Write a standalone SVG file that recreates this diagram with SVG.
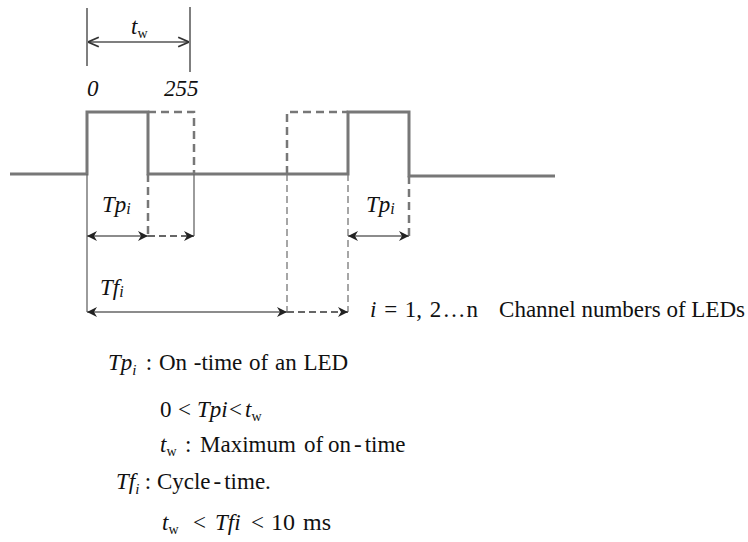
<svg xmlns="http://www.w3.org/2000/svg" width="748" height="542" viewBox="0 0 748 542">
<defs>
<style>
.wave{fill:none;stroke:#777;stroke-width:3;stroke-linejoin:miter}
.wdash{fill:none;stroke:#777;stroke-width:2.5;stroke-dasharray:8,5}
.thin{fill:none;stroke:#666;stroke-width:1.3}
.tdash{fill:none;stroke:#777;stroke-width:1.3;stroke-dasharray:7,4}
.dim{fill:none;stroke:#555;stroke-width:1.5}
.dimd{fill:none;stroke:#666;stroke-width:2.2;stroke-dasharray:7,4}
text{font-family:"Liberation Serif","DejaVu Serif",serif;font-size:23px;fill:#111}
.it{font-style:italic}
.sub{font-size:14px;font-style:normal}
.si{font-size:15px;font-style:italic}
</style>
<marker id="ah" viewBox="0 0 10 10" refX="10" refY="5" markerWidth="10" markerHeight="10" markerUnits="userSpaceOnUse" orient="auto-start-reverse">
<path d="M0,0 L10,5 L0,10 L3,5 z" fill="#222"/>
</marker>
<marker id="oa" viewBox="0 0 10 10" refX="10" refY="5" markerWidth="12" markerHeight="12" markerUnits="userSpaceOnUse" orient="auto-start-reverse">
<path d="M1,1 L10,5 L1,9" fill="none" stroke="#333" stroke-width="1.5"/>
</marker>
</defs>

<g id="connectors">
<line class="dim" x1="87" y1="8" x2="87" y2="66"/>
<line class="dim" x1="190" y1="7" x2="190" y2="72"/>
<line class="dim" x1="88" y1="42" x2="189" y2="42" marker-start="url(#oa)" marker-end="url(#oa)"/>
<path class="wave" d="M10,174 H87 V112 H148 V174 H348 V112 H409 V176 H555"/>
<path class="wdash" d="M148,112 H194 V174"/>
<path class="wdash" d="M287,174 V112 H348"/>
<path class="wdash" d="M148,174 V236"/>
<path class="wdash" d="M409,176 V236"/>
<line class="thin" x1="87" y1="174" x2="87" y2="312"/>
<line class="thin" x1="194" y1="174" x2="194" y2="236"/>
<line class="tdash" x1="287" y1="174" x2="287" y2="312"/>
<line class="tdash" x1="348" y1="174" x2="348" y2="312"/>
<line class="thin" x1="87" y1="236" x2="148" y2="236" marker-start="url(#ah)" marker-end="url(#ah)"/>
<line class="dimd" x1="148" y1="236" x2="194" y2="236" marker-end="url(#ah)"/>
<line class="thin" x1="348" y1="236" x2="409" y2="236" marker-start="url(#ah)" marker-end="url(#ah)"/>
<line class="thin" x1="87" y1="312" x2="287" y2="312" marker-start="url(#ah)" marker-end="url(#ah)"/>
<line class="dimd" x1="287" y1="312" x2="348" y2="312" marker-end="url(#ah)"/>
</g>

<g id="labels-top">
<text x="131" y="34" class="it" font-size="24">t<tspan class="sub" dy="4">w</tspan></text>
<text x="87" y="96" class="it" font-size="25">0</text>
<text x="164" y="96" class="it" font-size="25">255</text>
</g>
<g id="label-tp-left"><text x="102" y="212" class="it">Tp<tspan font-size="16" dy="2">i</tspan></text></g>
<g id="label-tp-right"><text x="366" y="212" class="it">Tp<tspan font-size="16" dy="2">i</tspan></text></g>
<g id="label-tf"><text x="100" y="295" class="it">Tf<tspan font-size="16" dy="2">i</tspan></text></g>
<g id="label-channels">
<text x="370" y="317" word-spacing="2"><tspan class="it">i</tspan> = 1, 2<tspan dx="1">…</tspan><tspan dx="1">n</tspan></text>
<text x="745" y="317" font-size="22" text-anchor="end">Channel numbers of LEDs</text>
</g>

<g id="legend">
<text x="108" y="370" word-spacing="1"><tspan class="it">Tp</tspan><tspan class="si" dy="5">i</tspan><tspan x="139" dy="-5"> : On -time of an LED</tspan></text>

<text x="160" y="417">0 <tspan x="178">&lt;</tspan> <tspan x="197" class="it">Tpi</tspan><tspan x="229">&lt;</tspan> <tspan x="245" class="it">t</tspan><tspan class="sub" dy="4">w</tspan></text>

<text x="160" y="452"><tspan class="it">t</tspan><tspan class="sub" dy="4">w</tspan><tspan x="185" dy="-4">:</tspan> <tspan x="200">Maximum</tspan> <tspan x="304">of</tspan> <tspan x="328">on</tspan><tspan dx="3">-</tspan><tspan dx="3">time</tspan></text>

<text x="116" y="489"><tspan class="it">Tf</tspan><tspan class="si" dy="5">i</tspan><tspan x="139" dy="-5"> : Cycle</tspan><tspan dx="3">-</tspan><tspan dx="3">time.</tspan></text>

<text x="162" y="530"><tspan class="it">t</tspan><tspan class="sub" dy="4">w</tspan><tspan x="193" dy="-4">&lt;</tspan> <tspan x="215" class="it">Tfi</tspan> <tspan x="251">&lt;</tspan> <tspan x="271" font-size="24" word-spacing="2">10 ms</tspan></text>
</g>
</svg>
